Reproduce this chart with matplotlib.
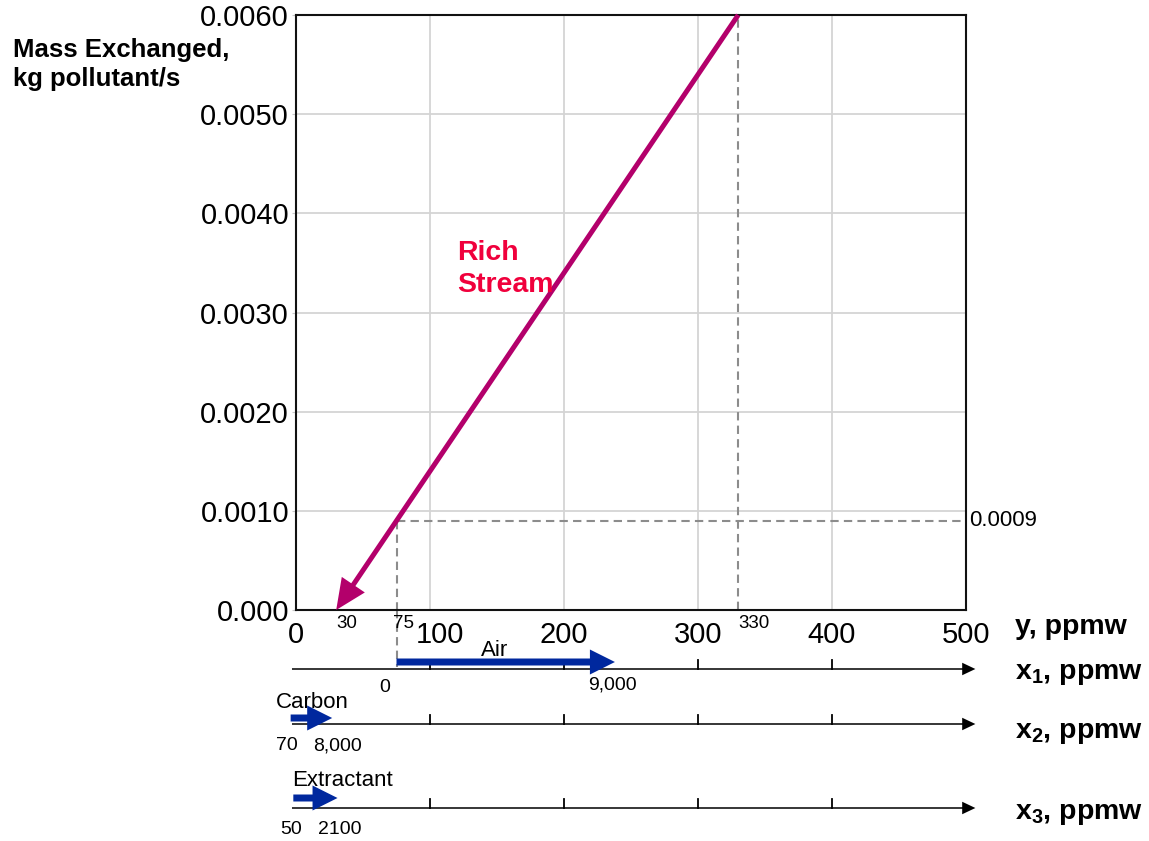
import numpy as np
import matplotlib
matplotlib.use('Agg')
import matplotlib.pyplot as plt
from matplotlib.transforms import blended_transform_factory, ScaledTranslation

plt.rcParams['font.family'] = ['Liberation Sans', 'DejaVu Sans']
plt.rcParams['mathtext.fontset'] = 'custom'
plt.rcParams['mathtext.bf'] = 'Liberation Sans:bold'
plt.rcParams['mathtext.rm'] = 'Liberation Sans'

# main axes: rich stream composition vs mass exchanged
y_ticks = [0, 100, 200, 300, 400, 500]
y_ticklabels = ['0', '100', '200', '300', '400', '500']
mass_ticks = [0.0, 0.001, 0.002, 0.003, 0.004, 0.005, 0.006]
mass_ticklabels = ['0.000', '0.0010', '0.0020', '0.0030', '0.0040', '0.0050', '0.0060']

rich_y = [330, 30]          # inlet -> outlet, ppmw
rich_mass = [0.0060, 0.0]   # kg/s
pinch_y = 75
pinch_mass = 0.0009
marked_y = [30, 75, 330]
marked_labels = ['30', '75', '330']

# lean streams (placed on the y scale)
scale_ticks = [100, 200, 300, 400]
lean_names = ['Air', 'Carbon', 'Extractant']
lean_span = [[75, 238], [-4, 27], [-2, 31]]
lean_labels = [['0', '9,000'], ['70', '8,000'], ['50', '2100']]

W, H = 1149, 841
fig = plt.figure(figsize=(W / 100, H / 100), dpi=100)
ax = fig.add_axes([296 / W, 231 / H, 670 / W, 595 / H])
trans = blended_transform_factory(ax.transData, fig.transFigure)


def fy(p):
    return 1 - p / H


ax.set_xlim(0, 500)
ax.set_ylim(0, 0.006)
ax.set_xticks(y_ticks)
ax.set_xticklabels(y_ticklabels)
ax.set_yticks(mass_ticks)
ax.set_yticklabels(mass_ticklabels)
ax.tick_params(axis='both', labelsize=21, length=3, color='#c8c8c8')
ax.tick_params(axis='x', length=0, pad=8)
ax.tick_params(axis='y', pad=2)
ax.grid(True, color='#d4d4d4', lw=1.3)
for s in ax.spines.values():
    s.set_linewidth(1.5)
    s.set_color('#111111')
# the "100" label sits a little right of its gridline
lab100 = ax.get_xticklabels()[1]
lab100.set_transform(lab100.get_transform() + ScaledTranslation(10 / 100, 0, fig.dpi_scale_trans))

# dashed guide lines
dash = dict(color='#8c8c8c', lw=1.5, ls=(0, (4, 2.5)))
ax.plot([pinch_y, 500], [pinch_mass, pinch_mass], **dash)
ax.plot([pinch_y, pinch_y], [pinch_mass, 0], **dash)
ax.plot([pinch_y, pinch_y], [fy(610), fy(667)], transform=trans, clip_on=False, **dash)
ax.plot([rich_y[0], rich_y[0]], [0, 0.006], **dash)
ax.text(1.005, pinch_mass, '%.4f' % pinch_mass, transform=ax.get_yaxis_transform(),
        fontsize=16, va='center', ha='left')

# rich stream arrow
ax.annotate('', xy=(rich_y[1], rich_mass[1]), xytext=(rich_y[0], rich_mass[0]),
            annotation_clip=False,
            arrowprops=dict(arrowstyle='simple,head_length=1.1,head_width=1.0,tail_width=0.18',
                            color='#b3006b', lw=0, shrinkA=0, shrinkB=0, mutation_scale=20))
ax.text(120, 0.00373, 'Rich\nStream', color='#f0003c', fontsize=20.5, fontweight='bold',
        va='top', ha='left', linespacing=1.3)

for v, lab in zip(marked_y, marked_labels):
    t = ax.text(v, fy(623), lab, transform=trans, fontsize=13.5, ha='left', va='center')
    if lab == '75':
        t.set_transform(trans + ScaledTranslation(-3 / 100, 0, fig.dpi_scale_trans))

# axis titles
fig.text(13 / W, fy(38), 'Mass Exchanged,\nkg pollutant/s', fontsize=18.5, fontweight='bold',
         va='top', ha='left', linespacing=1.25)
fig.text(1015 / W, fy(627), 'y, ppmw', fontsize=20.5, fontweight='bold', va='center')

# lean stream scales
rows = [669, 724, 808]
row_titles = [r'$\mathbf{x_1}$, ppmw', r'$\mathbf{x_2}$, ppmw', r'$\mathbf{x_3}$, ppmw']
row_title_y = [674, 733, 814]
arrow_y = [662, 718, 798]
for i, row in enumerate(rows):
    ax.annotate('', xy=(507, fy(row)), xytext=(-3, fy(row)), xycoords=trans, textcoords=trans,
                annotation_clip=False,
                arrowprops=dict(arrowstyle='simple,head_length=0.95,head_width=0.9,tail_width=0.11',
                                color='black', lw=0, shrinkA=0, shrinkB=0, mutation_scale=10))
    for t in scale_ticks:
        ax.plot([t, t], [fy(row), fy(row - 9)], transform=trans, clip_on=False,
                color='black', lw=1.3)
    fig.text(1015 / W, fy(row_title_y[i]), row_titles[i], fontsize=20.5, fontweight='bold',
             va='center')
    a, b = lean_span[i]
    ax.annotate('', xy=(b, fy(arrow_y[i])), xytext=(a, fy(arrow_y[i])), xycoords=trans,
                textcoords=trans, annotation_clip=False,
                arrowprops=dict(arrowstyle='simple,head_length=1.0,head_width=1.0,tail_width=0.28',
                                color='#00289e', lw=0, shrinkA=0, shrinkB=0, mutation_scale=18))

# lean stream labels
ax.text(75 - 9, fy(688), lean_labels[0][0], transform=trans, fontsize=14, ha='center', va='center')
ax.text(238 - 2, fy(685), lean_labels[0][1], transform=trans, fontsize=14, ha='center', va='center')
ax.text(148, fy(651), lean_names[0], transform=trans, fontsize=16, ha='center', va='center')
ax.text(-15, fy(703), lean_names[1], transform=trans, fontsize=16, ha='left', va='center')
ax.text(-7, fy(746), lean_labels[1][0], transform=trans, fontsize=14, ha='center', va='center')
ax.text(31, fy(746), lean_labels[1][1], transform=trans, fontsize=14, ha='center', va='center')
ax.text(-3, fy(781), lean_names[2], transform=trans, fontsize=16, ha='left', va='center')
ax.text(-4, fy(829), lean_labels[2][0], transform=trans, fontsize=14, ha='center', va='center')
ax.text(33, fy(829), lean_labels[2][1], transform=trans, fontsize=14, ha='center', va='center')

fig.savefig('out.png', dpi=100)
